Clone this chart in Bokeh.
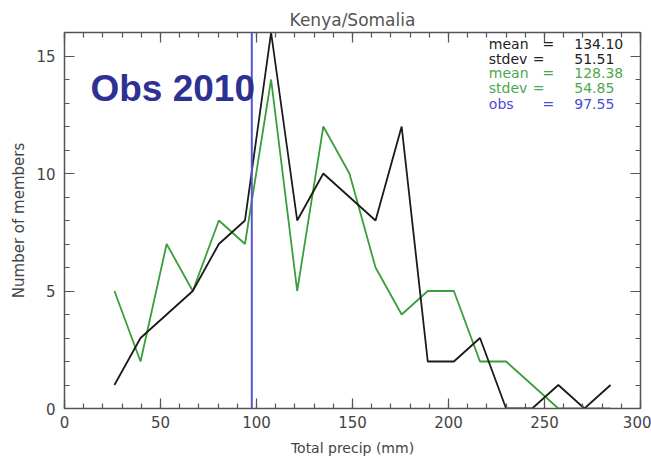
from bokeh.plotting import figure
from bokeh.models import (Range1d, LinearAxis, SingleIntervalTicker, Span, Label,
                          ColumnDataSource, CustomJSTickFormatter)
from bokeh.embed import file_html
from bokeh.resources import INLINE

# ---- data ----
precip = [26.0, 39.6, 53.2, 66.8, 80.4, 94.0, 107.6, 121.2, 134.8, 148.4,
          162.0, 175.6, 189.2, 202.8, 216.4, 230.0, 243.6, 257.2, 270.8, 284.4]
members_black = [1, 3, 4, 5, 7, 8, 16, 8, 10, 9, 8, 12, 2, 2, 3, 0, 0, 1, 0, 1]
members_green = [5, 2, 7, 5, 8, 7, 14, 5, 12, 10, 6, 4, 5, 5, 2, 2, 1, 0, 0, 0]
obs_value = 97.55
stat_names = ["mean", "stdev", "mean", "stdev", "obs"]
stat_values = ["134.10", "51.51", "128.38", "54.85", "97.55"]
stat_colors = ["#222222", "#222222", "#4ca84c", "#4ca84c", "#4b4bd8"]
title_text = "Kenya/Somalia"
xlabel = "Total precip (mm)"
ylabel = "Number of members"
annotation = "Obs 2010"

FONT = "DejaVu Sans"
GRAY = "#555555"

p = figure(width=651, height=459, output_backend="svg", toolbar_location=None,
           x_range=Range1d(0, 300), y_range=Range1d(0, 16),
           min_border_left=64, min_border_right=11, min_border_top=32, min_border_bottom=51,
           title=title_text)
p.title.align = "center"
p.title.text_font = FONT
p.title.text_font_style = "normal"
p.title.text_font_size = "17px"
p.title.text_color = GRAY
p.title.offset = 0
p.title.standoff = 6

p.grid.visible = False
p.outline_line_color = None
p.background_fill_color = "white"
p.border_fill_color = "white"

p.xaxis.ticker = SingleIntervalTicker(interval=50, num_minor_ticks=5)
p.yaxis.ticker = SingleIntervalTicker(interval=5, num_minor_ticks=5)


def style_axis(ax):
    ax.axis_line_color = GRAY
    ax.axis_line_width = 1.5
    ax.major_tick_line_color = GRAY
    ax.minor_tick_line_color = GRAY
    ax.major_tick_line_width = 1.2
    ax.minor_tick_line_width = 1.2
    ax.major_tick_in = 10
    ax.major_tick_out = 0
    ax.minor_tick_in = 5
    ax.minor_tick_out = 0
    ax.major_label_text_font = FONT
    ax.major_label_text_font_size = "15px"
    ax.major_label_text_color = "#444444"
    ax.axis_label_text_font = FONT
    ax.axis_label_text_font_style = "normal"
    ax.axis_label_text_color = "#444444"


for ax in p.xaxis + p.yaxis:
    style_axis(ax)
p.xaxis.axis_label = xlabel
p.yaxis.axis_label = ylabel
p.xaxis.axis_label_text_font_size = "14px"
p.yaxis.axis_label_text_font_size = "15px"
p.xaxis.major_label_standoff = 7
p.yaxis.major_label_standoff = 9
p.xaxis.axis_label_standoff = 9
p.yaxis.axis_label_standoff = 5

blank = CustomJSTickFormatter(code="return ''")
top = LinearAxis(ticker=SingleIntervalTicker(interval=50, num_minor_ticks=5), formatter=blank)
right = LinearAxis(ticker=SingleIntervalTicker(interval=5, num_minor_ticks=5), formatter=blank)
for ax in (top, right):
    style_axis(ax)
    ax.major_label_standoff = 0
p.add_layout(top, "above")
p.add_layout(right, "right")

src = ColumnDataSource(dict(x=precip, black=members_black, green=members_green))
p.line("x", "green", source=src, line_color="#3a9e3a", line_width=1.8)
p.line("x", "black", source=src, line_color="#1a1a1a", line_width=1.8)

p.add_layout(Span(location=obs_value, dimension="height", line_color="#5555d5", line_width=2))

p.add_layout(Label(x=13.5, y=13.6, text=annotation, text_font="Liberation Sans",
                   text_font_style="bold", text_font_size="37px", text_color="#2E3192",
                   text_baseline="alphabetic"))

row_y = [15.53, 14.89, 14.26, 13.62, 12.94]
for name, val, col, yy in zip(stat_names, stat_values, stat_colors, row_y):
    eq_x = 247 if name == "stdev" else 252
    p.add_layout(Label(x=221, y=yy, text=name, text_font=FONT, text_font_size="14px",
                       text_color=col, text_baseline="middle"))
    p.add_layout(Label(x=eq_x, y=yy, text="=", text_font=FONT, text_font_size="14px",
                       text_color=col, text_baseline="middle", text_align="center"))
    p.add_layout(Label(x=265.5, y=yy, text=val, text_font=FONT, text_font_size="14px",
                       text_color=col, text_baseline="middle"))

open("out.html", "w").write(file_html(p, INLINE))
